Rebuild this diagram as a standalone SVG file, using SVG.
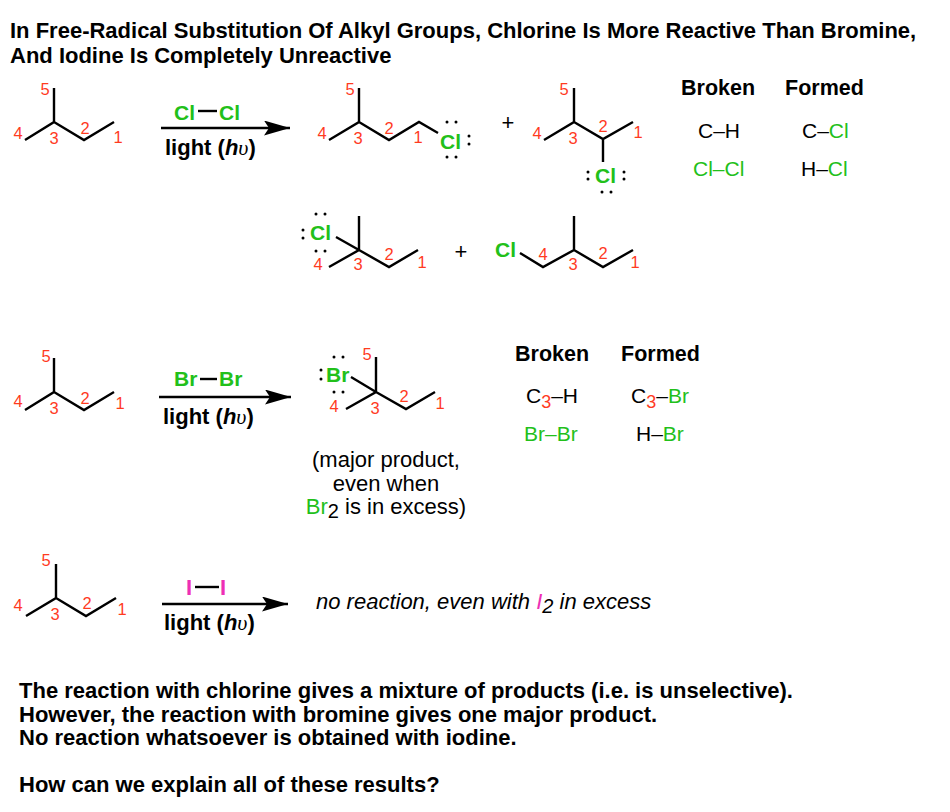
<svg xmlns="http://www.w3.org/2000/svg" width="950" height="812" viewBox="0 0 950 812">
<style>
text{font-family:"Liberation Sans",Arial,sans-serif;fill:#000}
.t{font-weight:bold;font-size:22px}
.l{font-weight:bold;font-size:22px}
.h{font-weight:bold;font-size:21.5px}
.b{font-size:21px}
.n{font-size:16.5px;fill:#ff3b1f;text-anchor:middle}
.g{fill:#22c01a}
.m{fill:#ee2fb5}
.r{fill:#ff3b1f}
.gb{font-weight:bold;font-size:21px;fill:#22c01a}
.ib{font-weight:bold;font-size:22px;fill:#ee2fb5}
.c{font-size:22px;text-anchor:middle}
.bond{fill:none;stroke:#000;stroke-width:2.4}
.arrow{fill:none;stroke:#000;stroke-width:2.6;marker-end:url(#head)}
.d{fill:#000}
.s{font-family:"Liberation Serif",serif;font-style:italic;font-weight:normal}
</style>
<defs>
<marker id="head" markerUnits="userSpaceOnUse" markerWidth="27" markerHeight="16" refX="26" refY="7.5" orient="auto"><path d="M0 0L26 7.5L0 15L5 7.5Z" fill="#000"/></marker>
</defs>
<rect width="950" height="812" fill="#fff"/>
<g id="title">
<text class="t" x="10" y="38">In Free-Radical Substitution Of Alkyl Groups, Chlorine Is More Reactive Than Bromine,</text>
<text class="t" x="10" y="63">And Iodine Is Completely Unreactive</text>
</g>
<g id="connectors">
<path class="arrow" d="M161 128H290"/>
<path class="arrow" d="M159 397H291"/>
<path class="arrow" d="M162 604H288"/>
</g>
<g id="reactant-1">
<path class="bond" d="M25 140L54 122V88M54 122L84 140L114 122"/>
<text class="n" x="45" y="95">5</text><text class="n" x="18" y="139">4</text><text class="n" x="54" y="144">3</text><text class="n" x="85" y="134">2</text><text class="n" x="118" y="143">1</text>
</g>
<g id="reagent-cl">
<text class="gb" x="174" y="120">Cl</text><path class="bond" d="M198 111H217"/><text class="gb" x="219" y="120">Cl</text>
<text class="l" x="165" y="155">light (<tspan font-style="italic">h</tspan><tspan class="s">υ</tspan>)</text>
</g>
<g id="product-cl-1">
<path class="bond" d="M329 140L359 122V88M359 122L389 140L419 122L438 133"/>
<text class="n" x="350" y="95">5</text><text class="n" x="322" y="139">4</text><text class="n" x="358" y="144">3</text><text class="n" x="389" y="134">2</text><text class="n" x="418" y="143">1</text>
<text class="gb" x="440" y="149">Cl</text>
<circle class="d" cx="447" cy="122" r="1.5"/><circle class="d" cx="456" cy="122" r="1.5"/><circle class="d" cx="447" cy="157" r="1.5"/><circle class="d" cx="456" cy="157" r="1.5"/><circle class="d" cx="469" cy="136" r="1.5"/><circle class="d" cx="469" cy="144" r="1.5"/>
</g>
<text class="c" id="plus-1" x="508" y="130">+</text>
<g id="product-cl-2">
<path class="bond" d="M544 140L574 122V88M574 122L603 139L633 122M603 139V162"/>
<text class="n" x="564" y="95">5</text><text class="n" x="537" y="139">4</text><text class="n" x="573" y="144">3</text><text class="n" x="603" y="132">2</text><text class="n" x="638" y="138">1</text>
<text class="gb" x="595" y="183">Cl</text>
<circle class="d" cx="588" cy="172" r="1.5"/><circle class="d" cx="588" cy="179" r="1.5"/><circle class="d" cx="624" cy="172" r="1.5"/><circle class="d" cx="624" cy="179" r="1.5"/><circle class="d" cx="602" cy="192" r="1.5"/><circle class="d" cx="611" cy="192" r="1.5"/>
</g>
<g id="table-1">
<text class="h" x="681" y="95">Broken</text><text class="h" x="785" y="95">Formed</text>
<text class="b" x="698" y="138">C–H</text>
<text class="b" x="802" y="138">C–<tspan class="g">Cl</tspan></text>
<text class="b g" x="693" y="176">Cl–Cl</text>
<text class="b" x="801" y="176">H–<tspan class="g">Cl</tspan></text>
</g>
<g id="product-cl-3">
<path class="bond" d="M329 267L359 250V216M359 250L389 267L418 250M359 250L336 237"/>
<text class="n" x="318" y="270">4</text><text class="n" x="358" y="270">3</text><text class="n" x="389" y="260">2</text><text class="n" x="422" y="268">1</text>
<text class="gb" x="310" y="240">Cl</text>
<circle class="d" cx="316" cy="214" r="1.5"/><circle class="d" cx="325" cy="214" r="1.5"/><circle class="d" cx="316" cy="251" r="1.5"/><circle class="d" cx="325" cy="251" r="1.5"/><circle class="d" cx="303" cy="230" r="1.5"/><circle class="d" cx="303" cy="238" r="1.5"/>
</g>
<text class="c" id="plus-2" x="461" y="259">+</text>
<g id="product-cl-4">
<path class="bond" d="M520 253L543 267L574 250V216M574 250L603 267L633 250"/>
<text class="n" x="543" y="260">4</text><text class="n" x="573" y="270">3</text><text class="n" x="603" y="259">2</text><text class="n" x="635" y="268">1</text>
<text class="gb" x="495" y="257">Cl</text>
</g>
<g id="reactant-2">
<path class="bond" d="M25 410L54 392V358M54 392L84 410L114 392"/>
<text class="n" x="46" y="362">5</text><text class="n" x="18" y="407">4</text><text class="n" x="54" y="414">3</text><text class="n" x="85" y="404">2</text><text class="n" x="120" y="409">1</text>
</g>
<g id="reagent-br">
<text class="gb" x="174" y="386">Br</text><path class="bond" d="M200 379H217"/><text class="gb" x="219" y="386">Br</text>
<text class="l" x="163" y="424">light (<tspan font-style="italic">h</tspan><tspan class="s">υ</tspan>)</text>
</g>
<g id="product-br">
<path class="bond" d="M346 409L376 392V357M376 392L406 409L435 392M376 392L351 377"/>
<text class="n" x="367" y="360">5</text><text class="n" x="334" y="412">4</text><text class="n" x="375" y="414">3</text><text class="n" x="404" y="402">2</text><text class="n" x="440" y="409">1</text>
<text class="gb" x="326" y="382">Br</text>
<circle class="d" cx="334" cy="357" r="1.5"/><circle class="d" cx="343" cy="357" r="1.5"/><circle class="d" cx="334" cy="392" r="1.5"/><circle class="d" cx="343" cy="392" r="1.5"/><circle class="d" cx="321" cy="370" r="1.5"/><circle class="d" cx="321" cy="379" r="1.5"/>
</g>
<g id="table-2">
<text class="h" x="515" y="361">Broken</text><text class="h" x="621" y="361">Formed</text>
<text class="b" x="526" y="403">C<tspan class="r" font-size="18" dy="5">3</tspan><tspan dy="-5">–H</tspan></text>
<text class="b" x="631" y="403">C<tspan class="r" font-size="18" dy="5">3</tspan><tspan dy="-5">–</tspan><tspan class="g">Br</tspan></text>
<text class="b g" x="524" y="441">Br–Br</text>
<text class="b" x="636" y="441">H–<tspan class="g">Br</tspan></text>
</g>
<g id="note-br">
<text class="c" x="386" y="467">(major product,</text>
<text class="c" x="386" y="491">even when</text>
<text class="c" x="386" y="514"><tspan class="g">Br</tspan><tspan font-size="20" dy="4">2</tspan><tspan dy="-4"> is in excess)</tspan></text>
</g>
<g id="reactant-3">
<path class="bond" d="M26 616L56 598V564M56 598L86 616L116 598"/>
<text class="n" x="46" y="566">5</text><text class="n" x="18" y="611">4</text><text class="n" x="55" y="620">3</text><text class="n" x="87" y="609">2</text><text class="n" x="122" y="615">1</text>
</g>
<g id="reagent-i">
<text class="ib" x="186" y="595">I</text><path class="bond" d="M195 587H219"/><text class="ib" x="220" y="595">I</text>
<text class="l" x="164" y="630">light (<tspan font-style="italic">h</tspan><tspan class="s">υ</tspan>)</text>
</g>
<g id="note-i">
<text x="316" y="609" font-size="22" font-style="italic">no reaction, even with <tspan class="m">I</tspan><tspan font-size="20" dy="4">2</tspan><tspan dy="-4"> in excess</tspan></text>
</g>
<g id="summary">
<text class="t" x="19" y="698">The reaction with chlorine gives a mixture of products (i.e. is unselective).</text>
<text class="t" x="19" y="722">However, the reaction with bromine gives one major product.</text>
<text class="t" x="19" y="745">No reaction whatsoever is obtained with iodine.</text>
<text class="t" x="19" y="792">How can we explain all of these results?</text>
</g>
</svg>
